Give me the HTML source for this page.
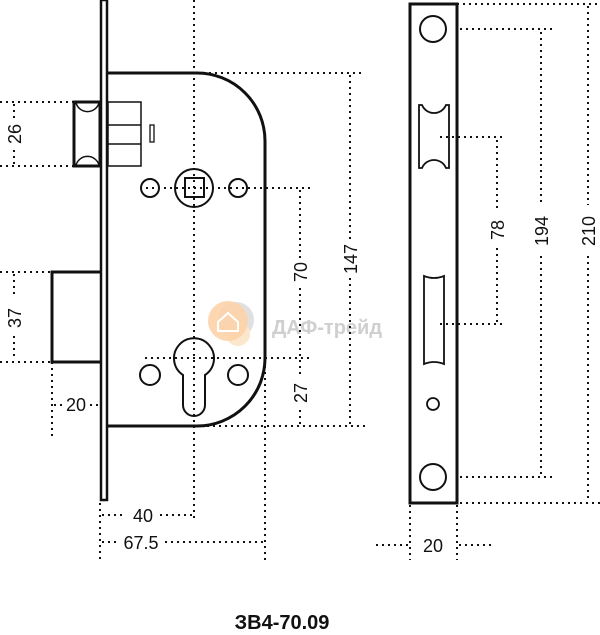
<!DOCTYPE html>
<html><head><meta charset="utf-8"><style>
html,body{margin:0;padding:0;background:#fff;width:600px;height:635px;overflow:hidden}
svg{display:block}
text{font-family:"Liberation Sans","DejaVu Sans",sans-serif;fill:#111}
.d{stroke:#111;stroke-width:2;stroke-dasharray:2 4;fill:none;stroke-linecap:butt}
.s{stroke:#111;fill:none}
.t{font-size:18px}
</style></head><body>
<svg width="600" height="635" viewBox="0 0 600 635">
<!-- watermark -->
<circle cx="236" cy="320" r="18" fill="#e0e0e0"/>
<circle cx="238" cy="334" r="12" fill="#fbe8cc"/>
<circle cx="228" cy="321" r="20" fill="#fcd3a8" opacity="0.9"/>
<path d="M218 322 L228 313 L238 322 V331 H218 Z" fill="none" stroke="#fff" stroke-width="2"/>
<text x="272" y="334" font-size="20" font-weight="bold" style="fill:#cfcfcf">ДАФ-трейд</text>

<!-- faceplate -->
<rect x="101" y="0" width="6" height="500" class="s" stroke-width="2.5"/>
<!-- body -->
<path d="M108 73 H197 A68 68 0 0 1 265 141 V358 A68 68 0 0 1 197 426 H108" class="s" stroke-width="3"/>
<!-- latch -->
<path d="M74 102 H100 V166 H74 Z" class="s" stroke-width="3"/>
<path d="M76 103 A12 12 0 0 0 99 103 M76 165 A12 12 0 0 1 99 165" class="s" stroke-width="1.5"/>
<rect x="108" y="102" width="33" height="64" class="s" stroke-width="1.5"/>
<path d="M108 125 H141 M108 144 H141" class="s" stroke-width="1.5"/>
<rect x="150" y="125" width="4" height="17" class="s" stroke-width="1.3"/>
<!-- deadbolt -->
<path d="M100 272 H52 V362 H100" class="s" stroke-width="3"/>
<!-- spindle -->
<circle cx="194" cy="188" r="19" class="s" stroke-width="2"/>
<rect x="185" y="178" width="19" height="19" class="s" stroke-width="2"/>
<circle cx="150" cy="188" r="9" class="s" stroke-width="2"/>
<circle cx="238" cy="188" r="9" class="s" stroke-width="2"/>
<!-- cylinder -->
<path d="M183 375 A20 20 0 1 1 205 375 V405 A11 11 0 0 1 183 405 Z" class="s" stroke-width="2"/>
<circle cx="150" cy="375" r="10" class="s" stroke-width="2"/>
<circle cx="238" cy="375" r="10" class="s" stroke-width="2"/>

<!-- dim lines left -->
<path class="d" d="M0 102 H74 M0 166 H74 M14 104 V120 M14 150 V164 M0 272 H52 M0 362 H52 M14 274 V298 M14 336 V360 M52 362 V440 M54 405 H62 M90 405 H98"/>
<g class="t"><text transform="translate(21,134) rotate(-90)" text-anchor="middle">26</text>
<text transform="translate(21,318) rotate(-90)" text-anchor="middle">37</text>
<text x="76" y="411" text-anchor="middle">20</text></g>
<!-- center / body dims -->
<path class="d" d="M194 0 V520 M197 73 H365 M140 188 H310 M145 358 H310 M195 426 H365 M300 190 V258 M300 288 V356 M300 360 V378 M300 410 V424 M350 75 V240 M350 278 V424"/>
<g class="t"><text transform="translate(307,272) rotate(-90)" text-anchor="middle">70</text>
<text transform="translate(307,393) rotate(-90)" text-anchor="middle">27</text>
<text transform="translate(357,259) rotate(-90)" text-anchor="middle">147</text></g>
<!-- bottom dims -->
<path class="d" d="M100 503 V560 M265 360 V560 M102 515 H126 M160 515 H192 M102 542 H118 M165 542 H263 M376 545 H408 M459 545 H493 M410 505 V560 M457 505 V560"/>
<g class="t"><text x="143" y="522" text-anchor="middle">40</text>
<text x="141" y="549" text-anchor="middle">67.5</text>
<text x="433" y="552" text-anchor="middle">20</text></g>
<!-- strike plate -->
<rect x="410" y="4" width="47" height="499" class="s" stroke-width="3"/>
<circle cx="433" cy="29" r="13" class="s" stroke-width="2"/>
<circle cx="433" cy="477" r="13" class="s" stroke-width="2"/>
<circle cx="433" cy="404" r="6" class="s" stroke-width="1.8"/>
<path d="M419 105 H422 A13 13 0 0 0 446 105 H449 V168 H446 A13 13 0 0 0 422 168 H419 Z" class="s" stroke-width="1.8"/>
<path d="M424 276 Q434 280 444 276 V364 Q434 360 424 364 Z" class="s" stroke-width="1.8"/>
<path class="d" d="M457 4 H600 M460 29 H556 M440 137 H506 M440 324 H506 M460 477 H556 M460 503 H600 M497 140 V210 M497 248 V322 M541 32 V205 M541 256 V475 M588 6 V205 M588 256 V501"/>
<g class="t"><text transform="translate(504,230) rotate(-90)" text-anchor="middle">78</text>
<text transform="translate(548,231) rotate(-90)" text-anchor="middle">194</text>
<text transform="translate(595,231) rotate(-90)" text-anchor="middle">210</text></g>
<text x="282" y="629" text-anchor="middle" font-size="20" font-weight="bold">ЗВ4-70.09</text>
</svg>
</body></html>
